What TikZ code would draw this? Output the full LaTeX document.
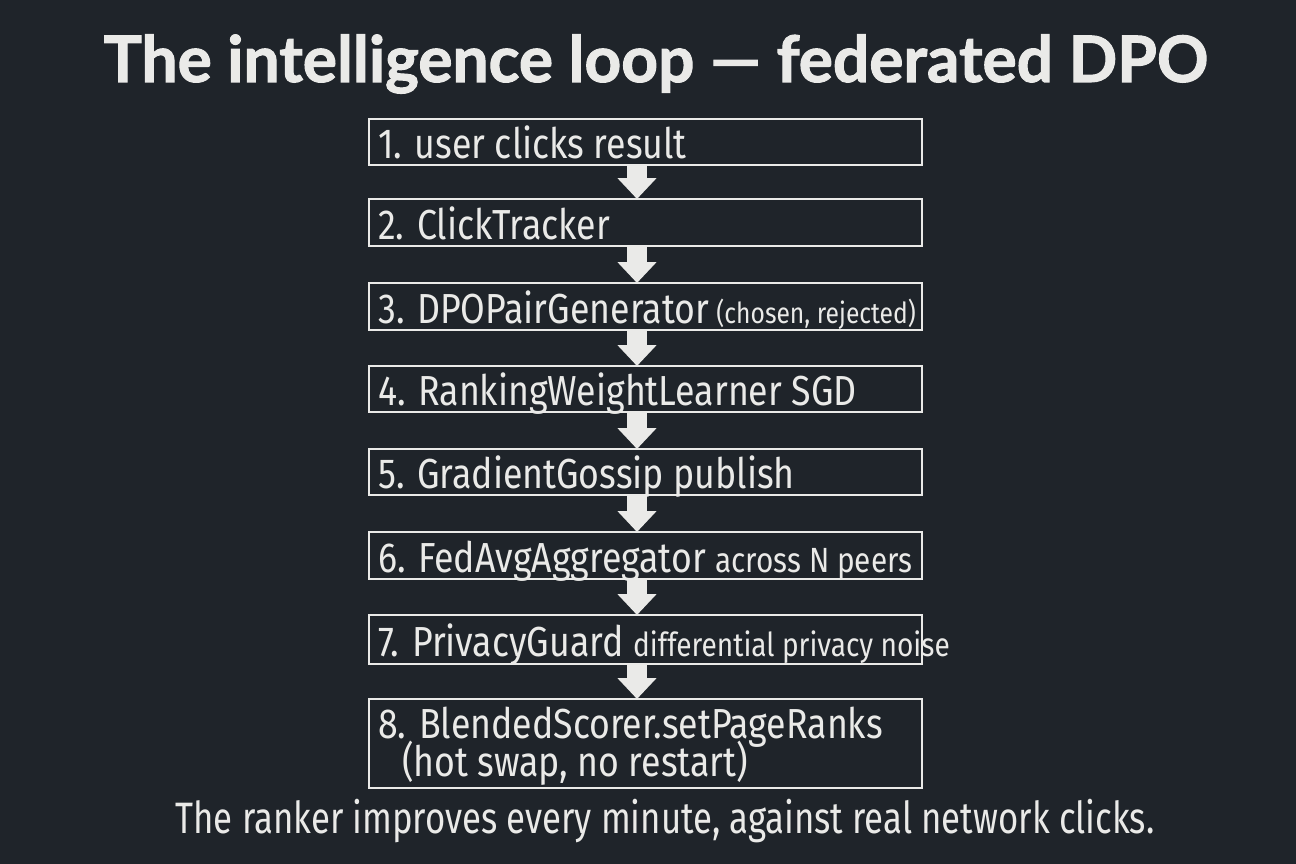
\documentclass[tikz,border=0pt]{standalone}
\usepackage{fontspec}
\usetikzlibrary{arrows.meta}
\newfontfamily\titlefont{Lato}[BoldFeatures={FakeBold=1.6}]
\newfontfamily\hand[FakeStretch=0.85]{Fira Sans}
\newfontfamily\handfoot[FakeStretch=0.79]{Fira Sans}
\definecolor{board}{RGB}{31,36,42}
\definecolor{chalk}{RGB}{234,234,232}
\tikzset{
  box/.style={draw=chalk, line width=2.4pt, minimum width=553pt, anchor=north west, inner sep=0pt},
  txt/.style={text=chalk, anchor=base west, inner sep=0pt, font=\hand\fontsize{42}{46}\selectfont},
  flow/.style={draw=chalk, line width=20pt, -{Triangle[length=21pt,width=38pt]}, shorten >=-1pt},
}
\newcommand{\sizedhand}[2]{{\fontsize{#1}{#1}\selectfont #2}}
\begin{document}
\begin{tikzpicture}[x=1pt,y=-1pt]
\fill[board] (0,0) rectangle (1296,864);
\useasboundingbox (0,0) rectangle (1296,864);
\node[text=chalk, font=\titlefont\bfseries\fontsize{64}{70}\selectfont, anchor=base] (title) at (656,82) {The intelligence loop — federated DPO};

\node[box, minimum height=46pt] (b1) at (368,118) {};
\node[box, minimum height=47pt] (b2) at (368,198) {};
\node[box, minimum height=47pt] (b3) at (368,282) {};
\node[box, minimum height=46pt] (b4) at (368,365) {};
\node[box, minimum height=46pt] (b5) at (368,448) {};
\node[box, minimum height=47pt] (b6) at (368,531) {};
\node[box, minimum height=49pt] (b7) at (368,614) {};
\node[box, minimum height=89pt] (b8) at (368,698) {};

\node[txt] (t1) at (378,158) {1. user clicks result};
\node[txt] (t2) at (378,239) {2. ClickTracker};
\node[txt] (t3) at (378,323) {3. DPOPairGenerator\hspace{-2pt} \sizedhand{29}{(chosen, rejected)}};
\node[txt] (t4) at (378,405) {4. RankingWeightLearner SGD};
\node[txt] (t5) at (378,488) {5. GradientGossip publish};
\node[txt] (t6) at (378,572) {6. FedAvgAggregator \sizedhand{35}{across N peers}};
\node[txt] (t7) at (378,656) {7. PrivacyGuard \sizedhand{33}{differential privacy noise}};
\node[txt, align=left] (t8) at (378,776) {8. BlendedScorer.setPageRanks\\[-8pt]\hspace*{24pt}(hot swap, no restart)};

\foreach \a/\b in {b1/b2,b2/b3,b3/b4,b4/b5,b5/b6,b6/b7,b7/b8}{
  \draw[flow] (\a.south -| 637,0) -- (\b.north -| 637,0);
}

\node[txt, font=\handfoot\fontsize{44}{48}\selectfont, anchor=base] (foot) at (665,833) {The ranker improves every minute, against real network clicks.};
\end{tikzpicture}
\end{document}
